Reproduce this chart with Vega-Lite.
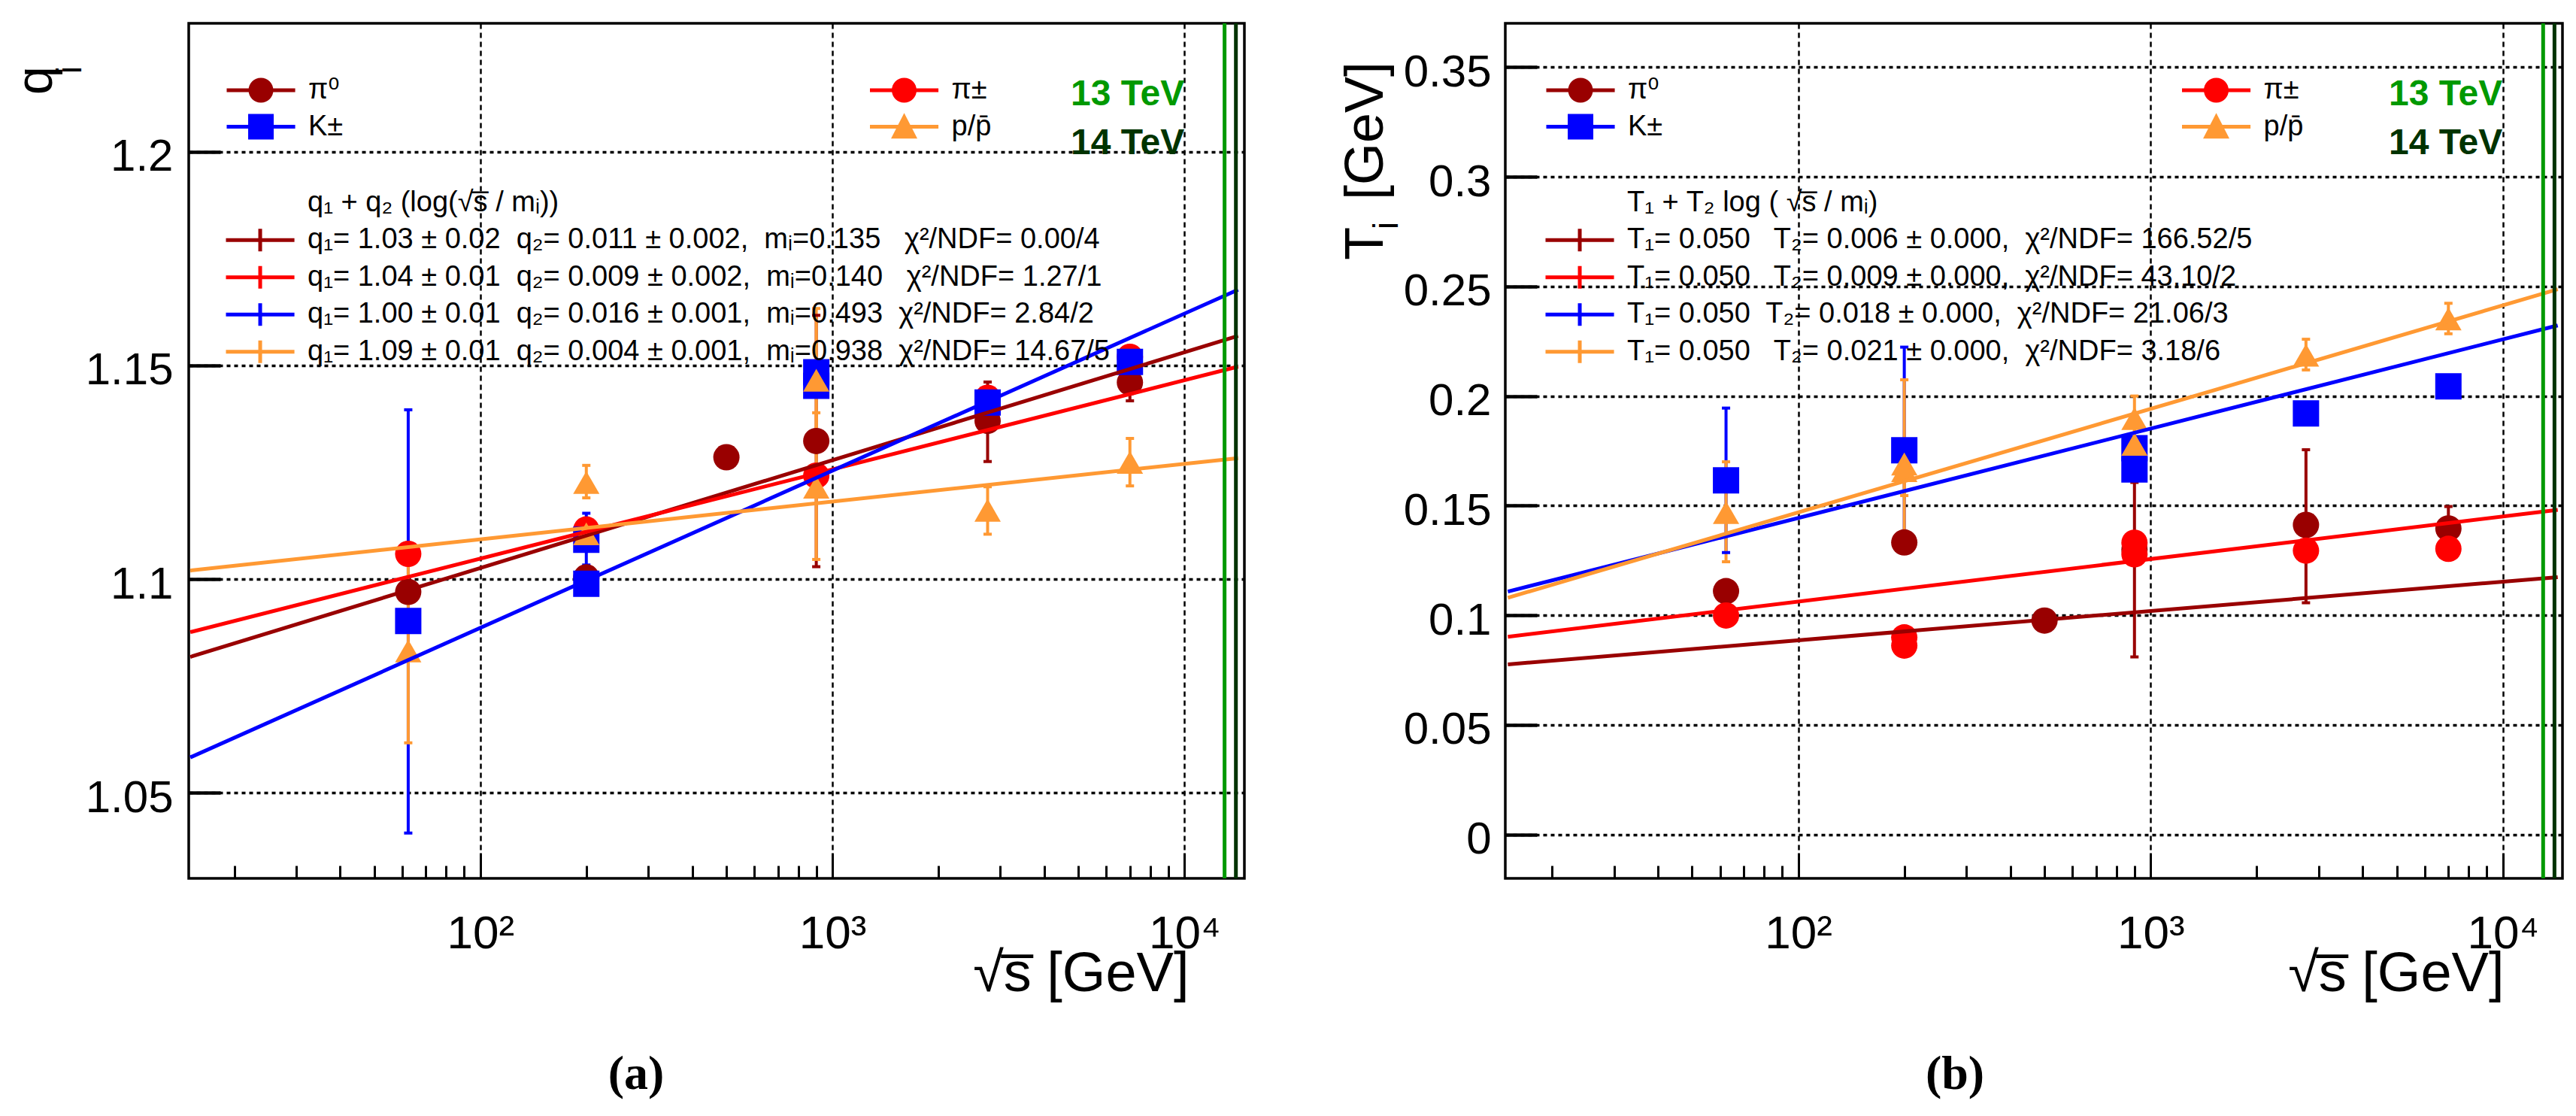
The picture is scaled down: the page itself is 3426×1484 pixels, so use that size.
{
  "$schema": "https://vega.github.io/schema/vega-lite/v6.json",
  "background": "white",
  "padding": {"left": 13, "top": 26, "right": 5, "bottom": 5},
  "config": {
    "font": "Liberation Sans, DejaVu Sans",
    "view": {"stroke": "#000000", "strokeWidth": 3.5},
    "axis": {
      "domain": false,
      "labelFont": "Liberation Sans, DejaVu Sans",
      "titleFont": "Liberation Sans, DejaVu Sans",
      "titleFontWeight": "normal",
      "labelColor": "#000000",
      "titleColor": "#000000",
      "tickColor": "#000000",
      "gridColor": "#000000",
      "labelFlush": false,
      "labelOverlap": false,
      "labelBound": false,
      "labelLimit": 0
    },
    "legend": {
      "labelFont": "Liberation Sans, DejaVu Sans",
      "titleFont": "Liberation Sans, DejaVu Sans",
      "labelColor": "#000000",
      "padding": 0,
      "labelLimit": 3000,
      "titleLimit": 3000
    }
  },
  "datasets": {
    "q_points": [
      {"species": "π⁰", "sqrt_s": 62.4, "value": 1.097},
      {"species": "π⁰", "sqrt_s": 200, "value": 1.1004},
      {"species": "π⁰", "sqrt_s": 500, "value": 1.1285},
      {"species": "π⁰", "sqrt_s": 900, "value": 1.1323, "lo": 1.1029, "hi": 1.1617},
      {"species": "π⁰", "sqrt_s": 2760, "value": 1.137, "lo": 1.1275, "hi": 1.1461},
      {"species": "π⁰", "sqrt_s": 7000, "value": 1.146, "lo": 1.1417, "hi": 1.1503},
      {"species": "π±", "sqrt_s": 62.4, "value": 1.1059},
      {"species": "π±", "sqrt_s": 200, "value": 1.1116},
      {"species": "π±", "sqrt_s": 900, "value": 1.1242},
      {"species": "π±", "sqrt_s": 2760, "value": 1.1424},
      {"species": "π±", "sqrt_s": 7000, "value": 1.152},
      {"species": "K±", "sqrt_s": 62.4, "value": 1.0902, "lo": 1.0406, "hi": 1.1396},
      {"species": "K±", "sqrt_s": 200, "value": 1.1092, "lo": 1.1033, "hi": 1.1154},
      {"species": "K±", "sqrt_s": 200, "value": 1.0989},
      {"species": "K±", "sqrt_s": 900, "value": 1.1484},
      {"species": "K±", "sqrt_s": 900, "value": 1.1452},
      {"species": "K±", "sqrt_s": 2760, "value": 1.1413},
      {"species": "K±", "sqrt_s": 7000, "value": 1.1508},
      {"species": "p/p̄", "sqrt_s": 62.4, "value": 1.0832, "lo": 1.0617, "hi": 1.105},
      {"species": "p/p̄", "sqrt_s": 200, "value": 1.1226, "lo": 1.119, "hi": 1.1266},
      {"species": "p/p̄", "sqrt_s": 200, "value": 1.1106},
      {"species": "p/p̄", "sqrt_s": 900, "value": 1.1465, "lo": 1.13, "hi": 1.1633},
      {"species": "p/p̄", "sqrt_s": 900, "value": 1.1215, "lo": 1.1046, "hi": 1.1389},
      {"species": "p/p̄", "sqrt_s": 2760, "value": 1.1161, "lo": 1.1105, "hi": 1.1216},
      {"species": "p/p̄", "sqrt_s": 7000, "value": 1.1273, "lo": 1.1218, "hi": 1.1329}
    ],
    "q_fits": [
      {"fit": "fit_pi0", "sqrt_s": 15, "value": 1.0818},
      {"fit": "fit_pi0", "sqrt_s": 14200, "value": 1.1569},
      {"fit": "fit_pic", "sqrt_s": 15, "value": 1.0876},
      {"fit": "fit_pic", "sqrt_s": 14200, "value": 1.1497},
      {"fit": "fit_k", "sqrt_s": 15, "value": 1.0583},
      {"fit": "fit_k", "sqrt_s": 14200, "value": 1.1677},
      {"fit": "fit_p", "sqrt_s": 15, "value": 1.102},
      {"fit": "fit_p", "sqrt_s": 14200, "value": 1.1283}
    ],
    "t_points": [
      {"species": "π⁰", "sqrt_s": 62.4, "value": 0.111},
      {"species": "π⁰", "sqrt_s": 200, "value": 0.1332},
      {"species": "π⁰", "sqrt_s": 500, "value": 0.0976},
      {"species": "π⁰", "sqrt_s": 900, "value": 0.13, "lo": 0.081, "hi": 0.1606},
      {"species": "π⁰", "sqrt_s": 2760, "value": 0.1412, "lo": 0.1057, "hi": 0.1755},
      {"species": "π⁰", "sqrt_s": 7000, "value": 0.1396, "lo": 0.1296, "hi": 0.1496},
      {"species": "π±", "sqrt_s": 62.4, "value": 0.0999},
      {"species": "π±", "sqrt_s": 200, "value": 0.0899},
      {"species": "π±", "sqrt_s": 200, "value": 0.0862},
      {"species": "π±", "sqrt_s": 900, "value": 0.1331},
      {"species": "π±", "sqrt_s": 900, "value": 0.1278},
      {"species": "π±", "sqrt_s": 2760, "value": 0.1295},
      {"species": "π±", "sqrt_s": 7000, "value": 0.1303},
      {"species": "K±", "sqrt_s": 62.4, "value": 0.1615, "lo": 0.1286, "hi": 0.1945},
      {"species": "K±", "sqrt_s": 200, "value": 0.1753, "lo": 0.1283, "hi": 0.2223},
      {"species": "K±", "sqrt_s": 900, "value": 0.1762},
      {"species": "K±", "sqrt_s": 900, "value": 0.1665},
      {"species": "K±", "sqrt_s": 2760, "value": 0.1921},
      {"species": "K±", "sqrt_s": 7000, "value": 0.2044},
      {"species": "p/p̄", "sqrt_s": 62.4, "value": 0.1468, "lo": 0.1244, "hi": 0.17},
      {"species": "p/p̄", "sqrt_s": 200, "value": 0.169, "lo": 0.1307, "hi": 0.2074},
      {"species": "p/p̄", "sqrt_s": 200, "value": 0.166, "lo": 0.1546, "hi": 0.1762},
      {"species": "p/p̄", "sqrt_s": 900, "value": 0.1897, "lo": 0.1794, "hi": 0.2},
      {"species": "p/p̄", "sqrt_s": 900, "value": 0.178, "lo": 0.1686, "hi": 0.1874},
      {"species": "p/p̄", "sqrt_s": 2760, "value": 0.2186, "lo": 0.2119, "hi": 0.2259},
      {"species": "p/p̄", "sqrt_s": 7000, "value": 0.2352, "lo": 0.2284, "hi": 0.2423}
    ],
    "t_fits": [
      {"fit": "fit_pi0", "sqrt_s": 15, "value": 0.0776},
      {"fit": "fit_pi0", "sqrt_s": 14300, "value": 0.1174},
      {"fit": "fit_pic", "sqrt_s": 15, "value": 0.0902},
      {"fit": "fit_pic", "sqrt_s": 14300, "value": 0.1481},
      {"fit": "fit_k", "sqrt_s": 15, "value": 0.1108},
      {"fit": "fit_k", "sqrt_s": 14300, "value": 0.2322},
      {"fit": "fit_p", "sqrt_s": 15, "value": 0.108},
      {"fit": "fit_p", "sqrt_s": 14300, "value": 0.2487}
    ],
    "tev": [
      {"sqrt_s": 13000, "tev": "13 TeV"},
      {"sqrt_s": 14000, "tev": "14 TeV"}
    ]
  },
  "bounds": "flush",
  "spacing": 347,
  "resolve": {
    "scale": {"color": "independent", "fill": "independent", "shape": "independent", "stroke": "independent"},
    "legend": {"color": "independent", "fill": "independent", "shape": "independent", "stroke": "independent"}
  },
  "hconcat": [
    {
      "width": 1404,
      "height": 1137,
      "title": {"text": "(a)", "orient": "bottom", "frame": "group", "anchor": "middle", "offset": 116, "dx": -107, "baseline": "alphabetic", "font": "Liberation Serif", "fontSize": 64, "fontWeight": "bold", "color": "#000000"},
      "resolve": {"scale": {"fill": "independent", "shape": "independent", "stroke": "independent"}},
      "layer": [
        {
          "data": {"name": "q_points"},
          "transform": [{"filter": "isValid(datum.lo)"}],
          "mark": {"type": "rule", "strokeWidth": 4, "clip": true},
          "encoding": {
            "x": {
              "field": "sqrt_s", "type": "quantitative", "title": "√s̅ [GeV]",
              "scale": {"type": "log", "domain": [14.85, 14800], "nice": false},
              "axis": {
                "values": [20, 30, 40, 50, 60, 70, 80, 90, 100, 200, 300, 400, 500, 600, 700, 800, 900, 1000, 2000, 3000, 4000, 5000, 6000, 7000, 8000, 9000, 10000],
                "labelExpr": "datum.value == 100 ? '10²' : datum.value == 1000 ? '10³' : datum.value == 10000 ? '10⁴' : ''",
                "labelFontSize": 62, "labelBaseline": "alphabetic", "labelPadding": 126,
                "tickSize": {"condition": {"test": "datum.value == 100 || datum.value == 1000 || datum.value == 10000", "value": -34}, "value": -17},
                "tickWidth": 3,
                "grid": true, "gridDash": [7, 5], "gridWidth": 2.5,
                "gridOpacity": {"condition": {"test": "datum.value == 100 || datum.value == 1000 || datum.value == 10000", "value": 1}, "value": 0},
                "titleFontSize": 74, "titleX": 1330, "titleY": 149, "titleAlign": "right", "titleBaseline": "alphabetic"
              }
            },
            "y": {
              "field": "lo", "type": "quantitative", "title": null,
              "scale": {"domain": [1.03, 1.23], "nice": false, "zero": false},
              "axis": {
                "values": [1.05, 1.1, 1.15, 1.2], "format": "~g",
                "labelFontSize": 60, "labelPadding": 63, "labelBaseline": "alphabetic", "labelOffset": 25,
                "tickSize": -42, "tickWidth": 4.5,
                "grid": true, "gridDash": [5, 5], "gridWidth": 3.5
              }
            },
            "y2": {"field": "hi"},
            "color": {
              "field": "species", "type": "nominal",
              "scale": {"domain": ["π⁰", "π±", "K±", "p/p̄", "13 TeV", "14 TeV"], "range": ["#990000", "#ff0000", "#0000ff", "#ff9933", "#009900", "#003300"]},
              "legend": null
            }
          }
        },
        {
          "data": {"name": "q_points"},
          "transform": [{"filter": "isValid(datum.lo)"}],
          "mark": {"type": "tick", "orient": "horizontal", "size": 11, "thickness": 4, "opacity": 1},
          "encoding": {
            "x": {"field": "sqrt_s", "type": "quantitative"},
            "y": {"field": "lo", "type": "quantitative"},
            "color": {"field": "species", "type": "nominal", "legend": null}
          }
        },
        {
          "data": {"name": "q_points"},
          "transform": [{"filter": "isValid(datum.hi)"}],
          "mark": {"type": "tick", "orient": "horizontal", "size": 11, "thickness": 4, "opacity": 1},
          "encoding": {
            "x": {"field": "sqrt_s", "type": "quantitative"},
            "y": {"field": "hi", "type": "quantitative"},
            "color": {"field": "species", "type": "nominal", "legend": null}
          }
        },
        {
          "data": {"name": "q_points"},
          "mark": {"type": "point", "filled": true, "size": 1225, "opacity": 1, "strokeWidth": 0},
          "encoding": {
            "x": {"field": "sqrt_s", "type": "quantitative"},
            "y": {"field": "value", "type": "quantitative"},
            "shape": {
              "field": "species", "type": "nominal",
              "scale": {"domain": ["π⁰", "π±", "K±", "p/p̄"], "range": ["circle", "circle", "square", "triangle-up"]},
              "legend": null
            },
            "fill": {
              "field": "species", "type": "nominal",
              "scale": {"domain": ["π⁰", "π±", "K±", "p/p̄"], "range": ["#990000", "#ff0000", "#0000ff", "#ff9933"]},
              "legend": null
            }
          }
        },
        {
          "data": {"name": "q_points"},
          "mark": {"type": "point", "filled": true, "size": 1089, "opacity": 0, "strokeWidth": 0},
          "encoding": {
            "x": {"field": "sqrt_s", "type": "quantitative"},
            "y": {"field": "value", "type": "quantitative"},
            "fill": {
              "field": "species", "type": "nominal",
              "scale": {"domain": ["π⁰", "K±", "π±", "p/p̄"], "range": ["#990000", "#0000ff", "#ff0000", "#ff9933"]},
              "legend": {
                "orient": "none", "legendX": 48, "legendY": 70, "title": null,
                "columns": 2, "columnPadding": 697.5, "rowPadding": 10.5,
                "symbolSize": 1089, "symbolStrokeWidth": 0, "symbolOpacity": 1,
                "labelFontSize": 38, "labelOffset": 73
              }
            },
            "shape": {
              "field": "species", "type": "nominal",
              "scale": {"domain": ["π⁰", "K±", "π±", "p/p̄"], "range": ["M-1,-0.15H4.52V0.15H-1Z M2.76,0A1,1,0,1,1,0.76,0A1,1,0,1,1,2.76,0Z", "M-1,-0.15H4.52V0.15H-1Z M0.73,-1.03H2.79V1.03H0.73Z", "M-1,-0.15H4.52V0.15H-1Z M2.76,0A1,1,0,1,1,0.76,0A1,1,0,1,1,2.76,0Z", "M-1,-0.15H4.52V0.15H-1Z M1.76,-1.1L2.82,0.96H0.7Z"]},
              "legend": {
                "orient": "none", "legendX": 48, "legendY": 70, "title": null,
                "columns": 2, "columnPadding": 697.5, "rowPadding": 10.5,
                "symbolSize": 1089, "symbolStrokeWidth": 0, "symbolOpacity": 1,
                "labelFontSize": 38, "labelOffset": 73
              }
            }
          }
        },
        {
          "data": {"name": "q_fits"},
          "mark": {"type": "line", "strokeWidth": 5, "clip": true},
          "encoding": {
            "x": {"field": "sqrt_s", "type": "quantitative"},
            "y": {"field": "value", "type": "quantitative"},
            "stroke": {
              "field": "fit", "type": "nominal",
              "scale": {"domain": ["fit_hdr", "fit_pi0", "fit_pic", "fit_k", "fit_p"], "range": ["rgba(0,0,0,0)", "#990000", "#ff0000", "#0000ff", "#ff9933"]},
              "legend": {
                "orient": "none", "legendX": 47, "legendY": 219.7, "title": null,
                "rowPadding": -2.5, "symbolSize": 1089, "symbolStrokeWidth": 5,
                "symbolType": "M-1,0H4.52M1.76,-0.91V0.91",
                "labelFontSize": 38, "labelOffset": 73,
                "labelExpr": "{'fit_hdr': 'q₁ + q₂ (log(√s̅ / mᵢ))', 'fit_pi0': 'q₁= 1.03 ± 0.02\u00a0 q₂= 0.011 ± 0.002,\u00a0 mᵢ=0.135\u00a0\u00a0 χ²/NDF= 0.00/4', 'fit_pic': 'q₁= 1.04 ± 0.01\u00a0 q₂= 0.009 ± 0.002,\u00a0 mᵢ=0.140\u00a0\u00a0 χ²/NDF= 1.27/1', 'fit_k': 'q₁= 1.00 ± 0.01\u00a0 q₂= 0.016 ± 0.001,\u00a0 mᵢ=0.493\u00a0 χ²/NDF= 2.84/2', 'fit_p': 'q₁= 1.09 ± 0.01\u00a0 q₂= 0.004 ± 0.001,\u00a0 mᵢ=0.938\u00a0 χ²/NDF= 14.67/5'}[datum.value]"
              }
            }
          }
        },
        {
          "data": {"name": "tev"},
          "mark": {"type": "rule", "strokeWidth": 5},
          "encoding": {
            "x": {"field": "sqrt_s", "type": "quantitative"},
            "color": {"field": "tev", "type": "nominal", "legend": null}
          }
        },
        {
          "data": {"values": [{}]},
          "mark": {"type": "text", "align": "left", "baseline": "alphabetic", "fontSize": 48, "fontWeight": "bold", "color": "#009900"},
          "encoding": {"x": {"datum": 4753}, "y": {"datum": 1.2108}, "text": {"value": "13 TeV"}}
        },
        {
          "data": {"values": [{}]},
          "mark": {"type": "text", "align": "left", "baseline": "alphabetic", "fontSize": 48, "fontWeight": "bold", "color": "#003300"},
          "encoding": {"x": {"datum": 4753}, "y": {"datum": 1.1994}, "text": {"value": "14 TeV"}}
        },
        {
          "data": {"values": [{}]},
          "mark": {"type": "text", "align": "left", "baseline": "alphabetic", "angle": 270, "fontSize": 68, "color": "#000000"},
          "encoding": {"x": {"datum": 6.067}, "y": {"datum": 1.2133}, "text": {"value": "q"}}
        },
        {
          "data": {"values": [{}]},
          "mark": {"type": "text", "align": "left", "baseline": "alphabetic", "angle": 270, "fontSize": 46, "color": "#000000"},
          "encoding": {"x": {"datum": 7.349}, "y": {"datum": 1.2182}, "text": {"value": "i"}}
        }
      ]
    },
    {
      "width": 1406,
      "height": 1137,
      "title": {"text": "(b)", "orient": "bottom", "frame": "group", "anchor": "middle", "offset": 116, "dx": -105, "baseline": "alphabetic", "font": "Liberation Serif", "fontSize": 64, "fontWeight": "bold", "color": "#000000"},
      "resolve": {"scale": {"fill": "independent", "shape": "independent", "stroke": "independent"}},
      "layer": [
        {
          "data": {"name": "t_points"},
          "transform": [{"filter": "isValid(datum.lo)"}],
          "mark": {"type": "rule", "strokeWidth": 4, "clip": true},
          "encoding": {
            "x": {
              "field": "sqrt_s", "type": "quantitative", "title": "√s̅ [GeV]",
              "scale": {"type": "log", "domain": [14.75, 14750], "nice": false},
              "axis": {
                "values": [20, 30, 40, 50, 60, 70, 80, 90, 100, 200, 300, 400, 500, 600, 700, 800, 900, 1000, 2000, 3000, 4000, 5000, 6000, 7000, 8000, 9000, 10000],
                "labelExpr": "datum.value == 100 ? '10²' : datum.value == 1000 ? '10³' : datum.value == 10000 ? '10⁴' : ''",
                "labelFontSize": 62, "labelBaseline": "alphabetic", "labelPadding": 126,
                "tickSize": {"condition": {"test": "datum.value == 100 || datum.value == 1000 || datum.value == 10000", "value": -34}, "value": -17},
                "tickWidth": 3,
                "grid": true, "gridDash": [7, 5], "gridWidth": 2.5,
                "gridOpacity": {"condition": {"test": "datum.value == 100 || datum.value == 1000 || datum.value == 10000", "value": 1}, "value": 0},
                "titleFontSize": 74, "titleX": 1328, "titleY": 149, "titleAlign": "right", "titleBaseline": "alphabetic"
              }
            },
            "y": {
              "field": "lo", "type": "quantitative", "title": null,
              "scale": {"domain": [-0.02, 0.37], "nice": false, "zero": false},
              "axis": {
                "values": [0, 0.05, 0.1, 0.15, 0.2, 0.25, 0.3, 0.35], "format": "~g",
                "labelFontSize": 60, "labelPadding": 61, "labelBaseline": "alphabetic", "labelOffset": 25,
                "tickSize": -42, "tickWidth": 4.5,
                "grid": true, "gridDash": [5, 5], "gridWidth": 3.5
              }
            },
            "y2": {"field": "hi"},
            "color": {
              "field": "species", "type": "nominal",
              "scale": {"domain": ["π⁰", "π±", "K±", "p/p̄", "13 TeV", "14 TeV"], "range": ["#990000", "#ff0000", "#0000ff", "#ff9933", "#009900", "#003300"]},
              "legend": null
            }
          }
        },
        {
          "data": {"name": "t_points"},
          "transform": [{"filter": "isValid(datum.lo)"}],
          "mark": {"type": "tick", "orient": "horizontal", "size": 11, "thickness": 4, "opacity": 1},
          "encoding": {
            "x": {"field": "sqrt_s", "type": "quantitative"},
            "y": {"field": "lo", "type": "quantitative"},
            "color": {"field": "species", "type": "nominal", "legend": null}
          }
        },
        {
          "data": {"name": "t_points"},
          "transform": [{"filter": "isValid(datum.hi)"}],
          "mark": {"type": "tick", "orient": "horizontal", "size": 11, "thickness": 4, "opacity": 1},
          "encoding": {
            "x": {"field": "sqrt_s", "type": "quantitative"},
            "y": {"field": "hi", "type": "quantitative"},
            "color": {"field": "species", "type": "nominal", "legend": null}
          }
        },
        {
          "data": {"name": "t_points"},
          "mark": {"type": "point", "filled": true, "size": 1225, "opacity": 1, "strokeWidth": 0},
          "encoding": {
            "x": {"field": "sqrt_s", "type": "quantitative"},
            "y": {"field": "value", "type": "quantitative"},
            "shape": {
              "field": "species", "type": "nominal",
              "scale": {"domain": ["π⁰", "π±", "K±", "p/p̄"], "range": ["circle", "circle", "square", "triangle-up"]},
              "legend": null
            },
            "fill": {
              "field": "species", "type": "nominal",
              "scale": {"domain": ["π⁰", "π±", "K±", "p/p̄"], "range": ["#990000", "#ff0000", "#0000ff", "#ff9933"]},
              "legend": null
            }
          }
        },
        {
          "data": {"name": "t_points"},
          "mark": {"type": "point", "filled": true, "size": 1089, "opacity": 0, "strokeWidth": 0},
          "encoding": {
            "x": {"field": "sqrt_s", "type": "quantitative"},
            "y": {"field": "value", "type": "quantitative"},
            "fill": {
              "field": "species", "type": "nominal",
              "scale": {"domain": ["π⁰", "K±", "π±", "p/p̄"], "range": ["#990000", "#0000ff", "#ff0000", "#ff9933"]},
              "legend": {
                "orient": "none", "legendX": 52, "legendY": 70, "title": null,
                "columns": 2, "columnPadding": 687.5, "rowPadding": 10.5,
                "symbolSize": 1089, "symbolStrokeWidth": 0, "symbolOpacity": 1,
                "labelFontSize": 38, "labelOffset": 73
              }
            },
            "shape": {
              "field": "species", "type": "nominal",
              "scale": {"domain": ["π⁰", "K±", "π±", "p/p̄"], "range": ["M-1,-0.15H4.52V0.15H-1Z M2.76,0A1,1,0,1,1,0.76,0A1,1,0,1,1,2.76,0Z", "M-1,-0.15H4.52V0.15H-1Z M0.73,-1.03H2.79V1.03H0.73Z", "M-1,-0.15H4.52V0.15H-1Z M2.76,0A1,1,0,1,1,0.76,0A1,1,0,1,1,2.76,0Z", "M-1,-0.15H4.52V0.15H-1Z M1.76,-1.1L2.82,0.96H0.7Z"]},
              "legend": {
                "orient": "none", "legendX": 52, "legendY": 70, "title": null,
                "columns": 2, "columnPadding": 687.5, "rowPadding": 10.5,
                "symbolSize": 1089, "symbolStrokeWidth": 0, "symbolOpacity": 1,
                "labelFontSize": 38, "labelOffset": 73
              }
            }
          }
        },
        {
          "data": {"name": "t_fits"},
          "mark": {"type": "line", "strokeWidth": 5, "clip": true},
          "encoding": {
            "x": {"field": "sqrt_s", "type": "quantitative"},
            "y": {"field": "value", "type": "quantitative"},
            "stroke": {
              "field": "fit", "type": "nominal",
              "scale": {"domain": ["fit_hdr", "fit_pi0", "fit_pic", "fit_k", "fit_p"], "range": ["rgba(0,0,0,0)", "#990000", "#ff0000", "#0000ff", "#ff9933"]},
              "legend": {
                "orient": "none", "legendX": 51, "legendY": 219.7, "title": null,
                "rowPadding": -2.5, "symbolSize": 1089, "symbolStrokeWidth": 5,
                "symbolType": "M-1,0H4.52M1.76,-0.91V0.91",
                "labelFontSize": 38, "labelOffset": 73,
                "labelExpr": "{'fit_hdr': 'T₁ + T₂ log ( √s̅ / mᵢ)', 'fit_pi0': 'T₁= 0.050\u00a0\u00a0 T₂= 0.006 ± 0.000,\u00a0 χ²/NDF= 166.52/5', 'fit_pic': 'T₁= 0.050\u00a0\u00a0 T₂= 0.009 ± 0.000,\u00a0 χ²/NDF= 43.10/2', 'fit_k': 'T₁= 0.050\u00a0 T₂= 0.018 ± 0.000,\u00a0 χ²/NDF= 21.06/3', 'fit_p': 'T₁= 0.050\u00a0\u00a0 T₂= 0.021 ± 0.000,\u00a0 χ²/NDF= 3.18/6'}[datum.value]"
              }
            }
          }
        },
        {
          "data": {"name": "tev"},
          "mark": {"type": "rule", "strokeWidth": 5},
          "encoding": {
            "x": {"field": "sqrt_s", "type": "quantitative"},
            "color": {"field": "tev", "type": "nominal", "legend": null}
          }
        },
        {
          "data": {"values": [{}]},
          "mark": {"type": "text", "align": "left", "baseline": "alphabetic", "fontSize": 48, "fontWeight": "bold", "color": "#009900"},
          "encoding": {"x": {"datum": 4742}, "y": {"datum": 0.3326}, "text": {"value": "13 TeV"}}
        },
        {
          "data": {"values": [{}]},
          "mark": {"type": "text", "align": "left", "baseline": "alphabetic", "fontSize": 48, "fontWeight": "bold", "color": "#003300"},
          "encoding": {"x": {"datum": 4742}, "y": {"datum": 0.3103}, "text": {"value": "14 TeV"}}
        },
        {
          "data": {"values": [{}]},
          "mark": {"type": "text", "align": "left", "baseline": "alphabetic", "angle": 270, "fontSize": 72, "color": "#000000"},
          "encoding": {"x": {"datum": 6.62}, "y": {"datum": 0.262}, "text": {"value": "T"}}
        },
        {
          "data": {"values": [{}]},
          "mark": {"type": "text", "align": "left", "baseline": "alphabetic", "angle": 270, "fontSize": 46, "color": "#000000"},
          "encoding": {"x": {"datum": 7.31}, "y": {"datum": 0.276}, "text": {"value": "i"}}
        },
        {
          "data": {"values": [{}]},
          "mark": {"type": "text", "align": "left", "baseline": "alphabetic", "angle": 270, "fontSize": 72, "color": "#000000"},
          "encoding": {"x": {"datum": 6.62}, "y": {"datum": 0.2894}, "text": {"value": "[GeV]"}}
        }
      ]
    }
  ]
}
